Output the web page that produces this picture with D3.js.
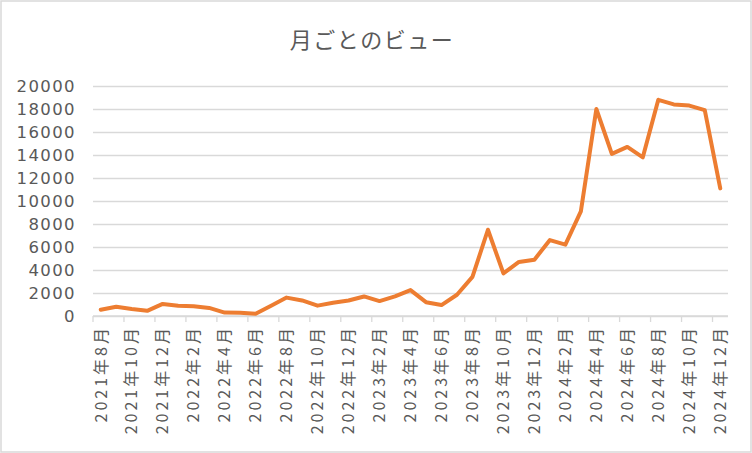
<!DOCTYPE html>
<html>
<head>
<meta charset="utf-8">
<script src="https://cdn.jsdelivr.net/npm/d3@7"></script>
<style>
  body { margin: 0; background: #fff; }
  svg { display: block; }
</style>
</head>
<body>
<div id="chart"></div>
<script>
// monthly views, 2021-08 .. 2024-12
let months = [
  "2021年8月", "2021年9月", "2021年10月", "2021年11月", "2021年12月",
  "2022年1月", "2022年2月", "2022年3月", "2022年4月", "2022年5月", "2022年6月",
  "2022年7月", "2022年8月", "2022年9月", "2022年10月", "2022年11月", "2022年12月",
  "2023年1月", "2023年2月", "2023年3月", "2023年4月", "2023年5月", "2023年6月",
  "2023年7月", "2023年8月", "2023年9月", "2023年10月", "2023年11月", "2023年12月",
  "2024年1月", "2024年2月", "2024年3月", "2024年4月", "2024年5月", "2024年6月",
  "2024年7月", "2024年8月", "2024年9月", "2024年10月", "2024年11月", "2024年12月"
];

let views = [
  550, 800, 600, 450, 1050,
  900, 850, 700, 300, 280, 200,
  900, 1600, 1350, 900, 1150, 1350,
  1700, 1300, 1700, 2250, 1200, 950,
  1850, 3400, 7500, 3700, 4700, 4900,
  6600, 6200, 9100, 18000, 14100, 14700,
  13800, 18800, 18400, 18300, 17900, 11100
];

let yTicks = [0, 2000, 4000, 6000, 8000, 10000, 12000, 14000, 16000, 18000, 20000];

let title = "月ごとのビュー";

let width = 752, height = 453;
let plot = { left: 93, right: 728, top: 86, bottom: 316 };

let svg = d3.select("#chart")
  .append("svg")
    .attr("width", width)
    .attr("height", height);

// outer border
svg.append("rect")
    .attr("x", 1).attr("y", 1)
    .attr("width", width - 2).attr("height", height - 2)
    .attr("fill", "#fff")
    .attr("stroke", "#d9d9d9")
    .attr("stroke-width", 1.5);

svg.append("text")
    .attr("x", 372)
    .attr("y", 48)
    .attr("text-anchor", "middle")
    .attr("fill", "#595959")
    .attr("font-family", "'Noto Sans CJK JP'")
    .attr("font-size", 22)
    .attr("letter-spacing", 1.5)
    .text(title);

let x = d3.scaleBand()
    .domain(months)
    .range([plot.left, plot.right]);

let y = d3.scaleLinear()
    .domain([0, 20000])
    .range([plot.bottom, plot.top]);

// y axis with gridlines
let yAxis = svg.append("g")
    .attr("transform", translate(plot.left, 0))
    .call(d3.axisLeft(y)
      .tickValues(yTicks)
      .tickSize(-(plot.right - plot.left))
      .tickPadding(17)
      .tickFormat(d3.format("d")));

yAxis.select(".domain").remove();
yAxis.selectAll(".tick line")
    .attr("stroke", "#d9d9d9")
    .attr("stroke-width", 1.3);
yAxis.selectAll(".tick text")
    .attr("fill", "#595959")
    .attr("font-family", "'DejaVu Sans'")
    .attr("font-size", 16.5)
    .attr("letter-spacing", 1.4);

// category axis: line, ticks every 2 months, labels every 2 months
let xAxis = svg.append("g");

xAxis.append("line")
    .attr("x1", plot.left).attr("x2", plot.right)
    .attr("y1", plot.bottom).attr("y2", plot.bottom)
    .attr("stroke", "#d9d9d9")
    .attr("stroke-width", 1.3);

let shown = months.filter(function(d, i) { return i % 2 == 0; });

xAxis.selectAll(".tickmark")
  .data(shown)
  .enter()
  .append("line")
    .attr("class", "tickmark")
    .attr("x1", function(d) { return x(d); })
    .attr("x2", function(d) { return x(d); })
    .attr("y1", plot.bottom)
    .attr("y2", plot.bottom + 6)
    .attr("stroke", "#d9d9d9")
    .attr("stroke-width", 1.3);

xAxis.selectAll(".label")
  .data(shown)
  .enter()
  .append("text")
    .attr("class", "label")
    .attr("transform", function(d) {
      return translate(x(d) + x.bandwidth() / 2, plot.bottom + 9) + " rotate(-90)";
    })
    .attr("text-anchor", "end")
    .attr("dy", "0.36em")
    .attr("fill", "#595959")
    .attr("font-family", "'Noto Sans CJK JP'")
    .attr("font-size", 16)
    .attr("letter-spacing", 3)
    .text(function(d) { return d; });

let line = d3.line()
    .x(function(d, i) { return x(months[i]) + x.bandwidth() / 2; })
    .y(function(d) { return y(d); });

svg.append("path")
    .datum(views)
    .attr("d", line)
    .attr("fill", "none")
    .attr("stroke", "#ed7d31")
    .attr("stroke-width", 4)
    .attr("stroke-linejoin", "round")
    .attr("stroke-linecap", "round");

function translate(x, y=0) {
  return "translate({x}, {y})"
          .replace("{x}", x)
          .replace("{y}", y);
}
</script>
</body>
</html>
